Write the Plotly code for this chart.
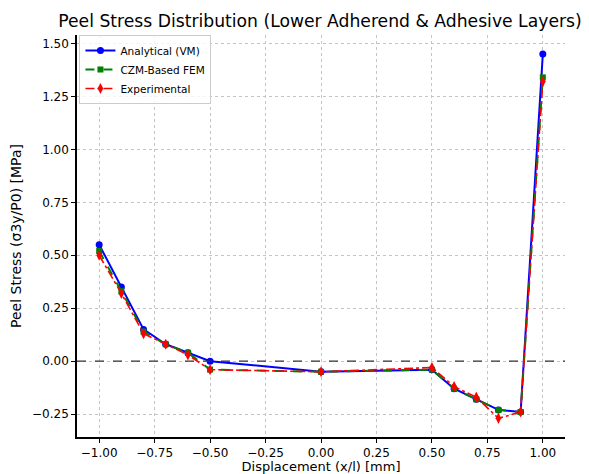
import plotly.graph_objects as go

x_vals = [-1.0, -0.9, -0.8, -0.7, -0.6, -0.5, 0.0, 0.5, 0.6, 0.7, 0.8, 0.9, 1.0]
analytical = [0.55, 0.35, 0.15, 0.08, 0.04, 0.00, -0.05, -0.04, -0.13, -0.18, -0.23, -0.24, 1.45]
czm_fem = [0.52, 0.33, 0.14, 0.08, 0.04, -0.04, -0.05, -0.04, -0.13, -0.18, -0.23, -0.24, 1.34]
experimental = [0.50, 0.32, 0.13, 0.08, 0.03, -0.04, -0.05, -0.03, -0.12, -0.17, -0.27, -0.24, 1.32]

x_ticks = [-1.0, -0.75, -0.5, -0.25, 0.0, 0.25, 0.5, 0.75, 1.0]
y_ticks = [-0.25, 0.0, 0.25, 0.5, 0.75, 1.0, 1.25, 1.5]

font = "DejaVu Sans"
fig = go.Figure()
fig.add_trace(go.Scatter(x=x_vals, y=analytical, mode="lines+markers", name="Analytical (VM)",
                         line=dict(color="#0000ff", width=2, dash="solid"),
                         marker=dict(symbol="circle", size=7, color="#0000ff")))
fig.add_trace(go.Scatter(x=x_vals, y=czm_fem, mode="lines+markers", name="CZM-Based FEM",
                         line=dict(color="#008000", width=2, dash="dash"),
                         marker=dict(symbol="square", size=6, color="#008000")))
fig.add_trace(go.Scatter(x=x_vals, y=experimental, mode="lines+markers", name="Experimental",
                         line=dict(color="#ff0000", width=1.6, dash="dashdot"),
                         marker=dict(symbol="diamond-tall", size=8, color="#ff0000")))

fig.add_hline(y=0, line=dict(color="#333333", width=1.2, dash="dash"), layer="above")

axis_common = dict(showline=True, linecolor="black", linewidth=1.5, ticks="outside", ticklen=4,
                   tickcolor="black", showgrid=True, gridcolor="#c4c4c4", griddash="dot", gridwidth=1,
                   zeroline=False, mirror=False, automargin=False,
                   tickfont=dict(family=font, size=12, color="black"))

# page is offset by the browser's 8px body margin, so the figure is sized to fill the rest
fig.update_layout(
    width=581, height=466,
    margin=dict(l=69, r=24, t=27, b=37),
    paper_bgcolor="white", plot_bgcolor="white",
    font=dict(family=font, color="black"),
    title=dict(text="Peel Stress Distribution (Lower Adherend & Adhesive Layers)", x=0.537, xanchor="center",
               y=0.972, yanchor="middle", automargin=False,
               font=dict(family=font, size=17.2, color="black")),
    xaxis=dict(range=[-1.1, 1.1], tickvals=x_ticks, ticktext=[f"{v:.2f}".replace("-", "\u2212") for v in x_ticks],
               title=dict(text="Displacement (x/l) [mm]", font=dict(family=font, size=13), standoff=4),
               **axis_common),
    yaxis=dict(range=[-0.358, 1.54], tickvals=y_ticks, ticktext=[f"{v:.2f}".replace("-", "\u2212") for v in y_ticks],
               title=dict(text="Peel Stress (σ3y/P0) [MPa]", font=dict(family=font, size=14), standoff=7),
               **axis_common),
    legend=dict(x=0.005, y=1.0, xanchor="left", yanchor="top", bgcolor="rgba(255,255,255,0.8)",
                bordercolor="#cccccc", borderwidth=1, font=dict(family=font, size=10.5),
                tracegroupgap=0, itemwidth=30),
    showlegend=True,
)

fig.write_html("out.html")
